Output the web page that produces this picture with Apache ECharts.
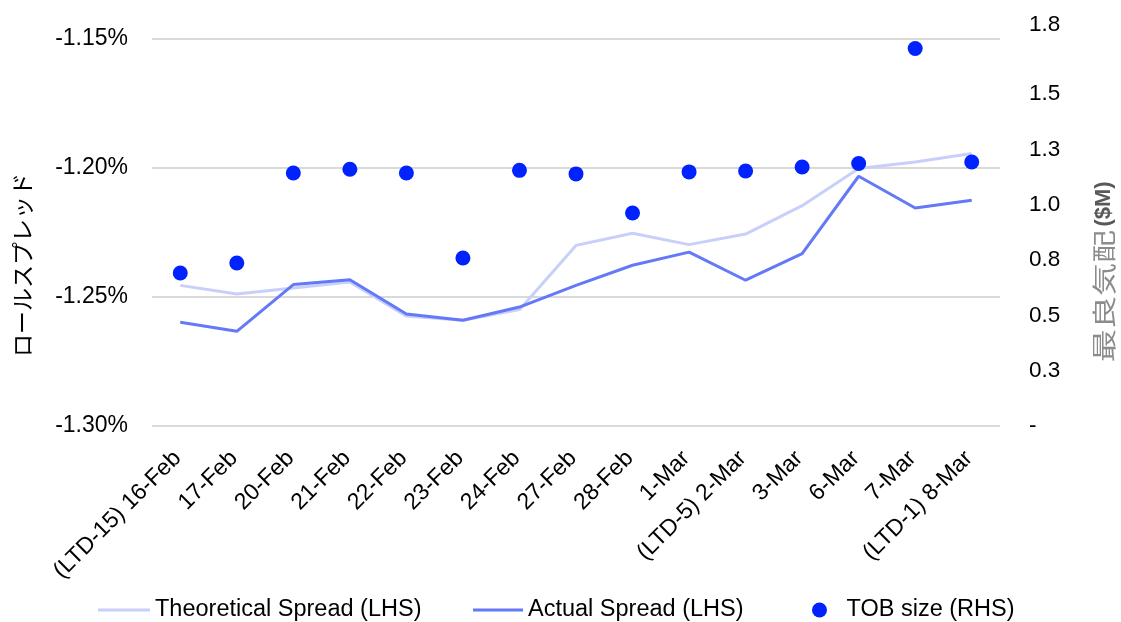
<!DOCTYPE html>
<html>
<head>
<meta charset="utf-8">
<script src="https://cdn.jsdelivr.net/npm/echarts@6/dist/echarts.min.js"></script>
<style>
html,body{margin:0;padding:0;background:#fff;}
#chart{width:1121px;height:622px;}
</style>
</head>
<body>
<div id="chart"></div>
<script>
var categories = ['(LTD-15) 16-Feb','17-Feb','20-Feb','21-Feb','22-Feb','23-Feb','24-Feb','27-Feb','28-Feb','1-Mar','(LTD-5) 2-Mar','3-Mar','6-Mar','7-Mar','(LTD-1) 8-Mar'];
var theoretical = [-1.2455,-1.2488,-1.2465,-1.2442,-1.2574,-1.2590,-1.2549,-1.2300,-1.2253,-1.2297,-1.2256,-1.2146,-1.2002,-1.1977,-1.1944];
var actual = [-1.2598,-1.2633,-1.2452,-1.2433,-1.2566,-1.2590,-1.2539,-1.2455,-1.2377,-1.2326,-1.2435,-1.2332,-1.2032,-1.2155,-1.2125];
var tob = [0.692,0.737,1.144,1.161,1.144,0.760,1.156,1.140,0.963,1.149,1.153,1.171,1.187,1.707,1.194];
var seriesNames = ['Theoretical Spread (LHS)','Actual Spread (LHS)','TOB size (RHS)'];
var leftTitle = 'ロールスプレッド';
var rightTitleJa = '最良気配';
var rightTitleUnit = '($M)';

var FONT = '"Liberation Sans", Arial, sans-serif';
var CJK = '"Noto Sans CJK JP", sans-serif';
var chart = echarts.init(document.getElementById('chart'), null, {renderer:'canvas'});
var legendText = {fontFamily:FONT, fontSize:23.5, color:'#000'};
chart.setOption({
  backgroundColor:'#fff',
  animation:false,
  grid:{left:152, right:121, top:39, bottom:196, containLabel:false},
  legend:[
    {top:593, left:93, itemWidth:52, itemHeight:3, selectedMode:false, textStyle:legendText,
     data:[{name:seriesNames[0], icon:'rect'}]},
    {top:593, left:468, itemWidth:50, itemHeight:3, selectedMode:false, textStyle:legendText,
     data:[{name:seriesNames[1], icon:'rect'}]},
    {top:593, left:807, itemWidth:44, itemHeight:15, selectedMode:false, textStyle:legendText,
     data:[{name:seriesNames[2], icon:'circle'}]}
  ],
  xAxis:{
    type:'category', data:categories, boundaryGap:true,
    axisLine:{show:false}, axisTick:{show:false},
    axisLabel:{interval:0, rotate:45, margin:26, padding:[0,4,0,0], fontFamily:FONT, fontSize:23, color:'#000'}
  },
  yAxis:[
    {type:'value', min:-1.30, max:-1.15, interval:0.05, position:'left',
     axisLine:{show:false}, axisTick:{show:false},
     splitLine:{show:true, lineStyle:{color:'#d9d9d9', width:2}},
     axisLabel:{margin:24, fontFamily:FONT, fontSize:23, color:'#000',
       formatter:function(v){return v.toFixed(2)+'%';}}},
    {type:'value', min:0, max:1.75, interval:0.25, position:'right',
     axisLine:{show:false}, axisTick:{show:false}, splitLine:{show:false},
     axisLabel:{margin:29, align:'left', fontFamily:FONT, fontSize:22.5, color:'#000',
       formatter:function(v){
         if (Math.abs(v) < 1e-9) return '-';
         if (Math.abs(v-1.75) < 1e-9) return '{top|' + v.toFixed(1) + '}';
         return v.toFixed(1);
       },
       rich:{top:{fontFamily:FONT, fontSize:22.5, color:'#000', padding:[0,0,28,0]}}}}
  ],
  series:[
    {name:seriesNames[0], type:'line', data:theoretical, yAxisIndex:0, symbol:'none',
     lineStyle:{color:'#c8d0fa', width:3}, itemStyle:{color:'#c8d0fa'}, z:2},
    {name:seriesNames[1], type:'line', data:actual, yAxisIndex:0, symbol:'none',
     lineStyle:{color:'#6479f8', width:3}, itemStyle:{color:'#6479f8'}, z:3},
    {name:seriesNames[2], type:'scatter', data:tob, yAxisIndex:1, symbol:'circle', symbolSize:15,
     itemStyle:{color:'#0022ff', opacity:1}, z:4}
  ],
  graphic:[
    {type:'text', x:22, y:265, rotation:Math.PI/2,
     style:{text:leftTitle, font:'23px '+CJK, fill:'#000', textAlign:'center', textVerticalAlign:'middle'}},
    {type:'text', x:1104, y:296, rotation:Math.PI/2, scaleX:1.38,
     style:{text:rightTitleJa, font:'24px '+CJK, fill:'#8c8c8c', textAlign:'center', textVerticalAlign:'middle'}},
    {type:'text', x:1104, y:204, rotation:Math.PI/2,
     style:{text:rightTitleUnit, font:'bold 22px '+FONT, fill:'#595959', textAlign:'center', textVerticalAlign:'middle'}}
  ]
});
</script>
</body>
</html>
